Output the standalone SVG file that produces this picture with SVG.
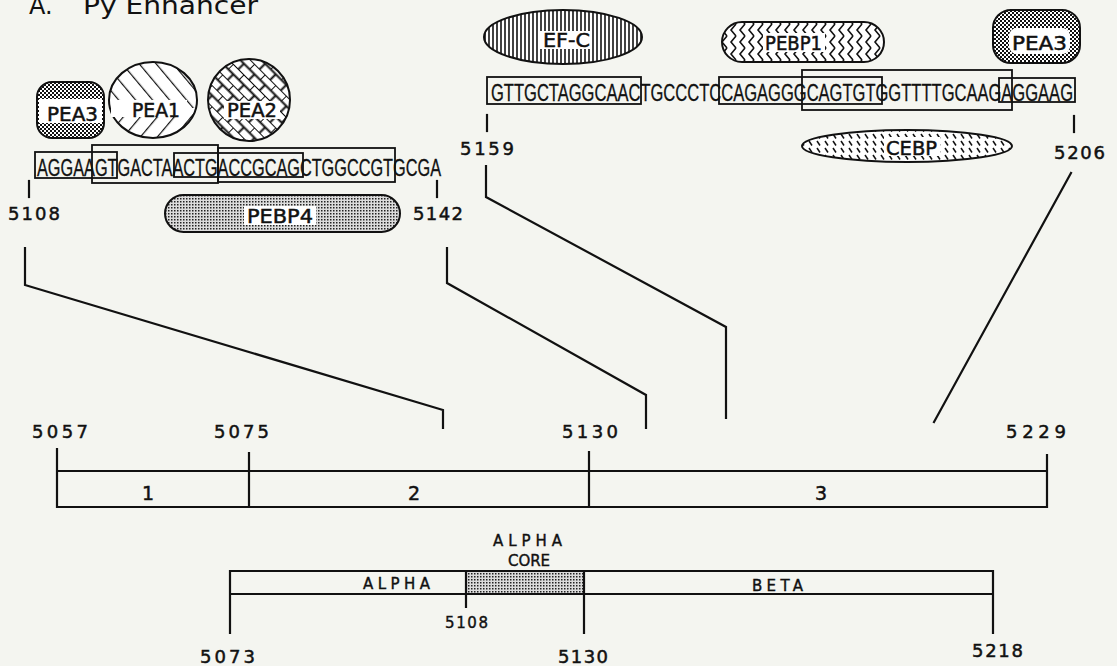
<svg xmlns="http://www.w3.org/2000/svg" width="1117" height="666" viewBox="0 0 1117 666">
<style>
.bg{fill:#f4f5f0}
.ln{fill:none;stroke:#111;stroke-width:2.2;stroke-linecap:square}
.bx{fill:none;stroke:#111;stroke-width:1.8}
.ol{stroke:#111;stroke-width:2}
.seq{font-family:"Liberation Sans",Arial,sans-serif;font-size:23px;fill:#111;stroke:#111;stroke-width:0.3}
.num{font-family:"DejaVu Sans",sans-serif;font-size:18px;fill:#111;stroke:#111;stroke-width:0.5}
.sm{font-family:"DejaVu Sans",sans-serif;font-size:15px;fill:#111;stroke:#111;stroke-width:0.4}
.lab{font-family:"DejaVu Sans",sans-serif;font-size:19px;fill:#111;stroke:#111;stroke-width:0.5}
.ttl{font-family:"DejaVu Sans",sans-serif;font-size:24px;fill:#111}
.wh{fill:#fff;stroke:none}
</style>
<defs>
<pattern id="checker" width="4" height="4" patternUnits="userSpaceOnUse">
<rect width="4" height="4" fill="#fff"/><rect width="2" height="2" fill="#111"/><rect x="2" y="2" width="2" height="2" fill="#111"/>
</pattern>
<pattern id="stipple" width="3" height="3" patternUnits="userSpaceOnUse">
<rect width="3" height="3" fill="#dcdcdc"/><rect width="1.5" height="1.5" fill="#222"/>
</pattern>
<pattern id="hatchA" width="13" height="13" patternUnits="userSpaceOnUse" patternTransform="rotate(-40)">
<rect width="13" height="13" fill="#fff"/><line x1="0" y1="0" x2="0" y2="13" stroke="#111" stroke-width="2.4"/>
</pattern>
<pattern id="hatchB" width="13" height="13" patternUnits="userSpaceOnUse" patternTransform="rotate(40)">
<rect width="13" height="13" fill="#fff"/><line x1="0" y1="0" x2="0" y2="13" stroke="#111" stroke-width="2.4"/>
</pattern>
<pattern id="brick" width="15" height="15" patternUnits="userSpaceOnUse" patternTransform="rotate(45)">
<rect width="15" height="15" fill="#fff"/><path d="M0,0H15M0,0V7.5M7.5,7.5V15M0,7.5H15" stroke="#111" stroke-width="2" fill="none"/>
</pattern>
<pattern id="vlines" width="4" height="4" patternUnits="userSpaceOnUse">
<rect width="4" height="4" fill="#fff"/><line x1="1" y1="0" x2="1" y2="4" stroke="#111" stroke-width="1.6"/>
</pattern>
<pattern id="chev" width="9" height="12" patternUnits="userSpaceOnUse">
<rect width="9" height="12" fill="#fff"/><path d="M7,0L2,6L7,12" stroke="#111" stroke-width="1.6" fill="none"/>
</pattern>
<pattern id="dash" width="8" height="7" patternUnits="userSpaceOnUse">
<rect width="8" height="7" fill="#fff"/><line x1="1" y1="1" x2="4" y2="5.5" stroke="#111" stroke-width="1.5"/>
</pattern>
<clipPath id="topHalf"><rect x="100" y="50" width="110" height="58"/></clipPath>
<clipPath id="botHalf"><rect x="100" y="108" width="110" height="40"/></clipPath>
</defs>
<rect class="bg" x="0" y="0" width="1117" height="666"/>

<g id="title">
<text class="ttl" x="29" y="14">A.</text>
<text class="ttl" x="83" y="14" textLength="175" lengthAdjust="spacingAndGlyphs">Py Enhancer</text>
</g>

<g id="pea3-left">
<rect x="37" y="82" width="67" height="56" rx="15" fill="url(#checker)" class="ol"/>
<rect class="wh" x="39" y="99" width="63" height="24"/>
<text class="lab" x="47" y="121" textLength="51" lengthAdjust="spacingAndGlyphs">PEA3</text>
</g>

<g id="pea1">
<ellipse cx="153" cy="100" rx="44" ry="38" fill="url(#hatchA)" class="ol" clip-path="url(#topHalf)"/>
<ellipse cx="153" cy="100" rx="44" ry="38" fill="url(#hatchB)" class="ol" clip-path="url(#botHalf)"/>
<rect class="wh" x="111" y="100" width="76" height="17"/>
<text class="lab" x="132" y="117" textLength="48" lengthAdjust="spacingAndGlyphs">PEA1</text>
</g>

<g id="pea2">
<circle cx="249" cy="100" r="41" fill="url(#brick)" class="ol"/>
<rect class="wh" x="224" y="101" width="56" height="18"/>
<text class="lab" x="227" y="117" textLength="50" lengthAdjust="spacingAndGlyphs">PEA2</text>
</g>

<g id="seq-left">
<rect class="bx" x="92" y="145" width="126" height="38"/>
<rect class="bx" x="218" y="148" width="177" height="34"/>
<rect class="bx" x="35" y="152" width="82" height="26" fill="#f4f5f0"/>
<rect class="bx" x="174" y="153" width="129" height="24" fill="#f4f5f0"/>
<text class="seq" x="37" y="176" textLength="404" lengthAdjust="spacingAndGlyphs">AGGAAGTGACTAACTGACCGCAGCTGGCCGTGCGA</text>
<line class="ln" x1="29" y1="181" x2="29" y2="197"/>
<line class="ln" x1="437" y1="181" x2="437" y2="197"/>
<text class="num" x="8" y="220" textLength="52" lengthAdjust="spacing">5108</text>
<text class="num" x="413" y="220" textLength="50" lengthAdjust="spacing">5142</text>
</g>

<g id="pebp4">
<rect x="165" y="195" width="235" height="37" rx="18.5" fill="url(#stipple)" class="ol"/>
<rect class="wh" x="244" y="206" width="72" height="19"/>
<text class="lab" x="247" y="223" textLength="66" lengthAdjust="spacingAndGlyphs">PEBP4</text>
</g>

<g id="efc">
<ellipse cx="563" cy="37" rx="79" ry="27" fill="url(#vlines)" class="ol"/>
<rect class="wh" x="540" y="31" width="52" height="18"/>
<text class="lab" x="543" y="47" textLength="47" lengthAdjust="spacingAndGlyphs">EF-C</text>
</g>

<g id="pebp1">
<rect x="722" y="22" width="162" height="40" rx="20" fill="url(#chev)" class="ol"/>
<rect class="wh" x="763" y="33" width="62" height="19"/>
<text class="lab" x="765" y="50" textLength="57" lengthAdjust="spacingAndGlyphs">PEBP1</text>
</g>

<g id="pea3-right">
<rect x="993" y="10" width="87" height="53" rx="18" fill="url(#checker)" class="ol"/>
<rect x="1009" y="28" width="61" height="26" rx="8" class="wh"/>
<text class="lab" x="1012" y="50" textLength="55" lengthAdjust="spacingAndGlyphs">PEA3</text>
</g>

<g id="seq-right">
<rect class="bx" x="802" y="70" width="210" height="40"/>
<rect class="bx" x="487" y="77" width="154" height="27" fill="#f4f5f0"/>
<rect class="bx" x="719" y="77" width="163" height="27" fill="#f4f5f0"/>
<rect class="bx" x="999" y="78" width="76" height="24" fill="#f4f5f0"/>
<text class="seq" x="491" y="101" textLength="582" lengthAdjust="spacingAndGlyphs">GTTGCTAGGCAACTGCCCTCCAGAGGGCAGTGTGGTTTTGCAAGAGGAAG</text>
<line class="ln" x1="487" y1="115" x2="487" y2="131"/>
<line class="ln" x1="1074" y1="116" x2="1074" y2="132"/>
<text class="num" x="460" y="155" textLength="54" lengthAdjust="spacing">5159</text>
<text class="num" x="1054" y="159" textLength="51" lengthAdjust="spacing">5206</text>
</g>

<g id="cebp">
<ellipse cx="907" cy="146" rx="105" ry="16" fill="url(#dash)" class="ol"/>
<rect class="wh" x="884" y="137" width="56" height="19"/>
<text class="lab" x="886" y="155" textLength="51" lengthAdjust="spacingAndGlyphs">CEBP</text>
</g>

<g id="connectors">
<polyline class="ln" points="25,248 25,285 443,410 443,428"/>
<polyline class="ln" points="447,248 447,283 646,395 646,428"/>
<polyline class="ln" points="486,166 486,197 726,327 726,418"/>
<line class="ln" x1="1071" y1="173" x2="934" y2="422"/>
</g>

<g id="bar1">
<path class="ln" d="M57,471H1047M57,507H1047M57,449V507M249,453V507M589,452V507M1047,455V507"/>
<text class="num" x="32" y="438" textLength="56" lengthAdjust="spacing">5057</text>
<text class="num" x="214" y="438" textLength="55" lengthAdjust="spacing">5075</text>
<text class="num" x="562" y="438" textLength="56" lengthAdjust="spacing">5130</text>
<text class="num" x="1006" y="438" textLength="60" lengthAdjust="spacing">5229</text>
<text class="lab" x="148" y="500" text-anchor="middle">1</text>
<text class="lab" x="414" y="500" text-anchor="middle">2</text>
<text class="lab" x="821" y="500" text-anchor="middle">3</text>
</g>

<g id="bar2">
<rect x="466" y="571" width="118" height="23" fill="url(#stipple)"/>
<path class="ln" d="M230,571H993M230,594H993M230,571V633M466,571V607M584,571V633M993,571V633"/>
<text class="sm" x="493" y="546" textLength="69" lengthAdjust="spacing">ALPHA</text>
<text class="sm" x="508" y="566" textLength="42" lengthAdjust="spacing">CORE</text>
<text class="sm" x="363" y="589" textLength="67" lengthAdjust="spacing">ALPHA</text>
<text class="sm" x="752" y="591" textLength="51" lengthAdjust="spacing">BETA</text>
<text class="sm" x="445" y="628" textLength="43" lengthAdjust="spacing">5108</text>
<text class="num" x="200" y="663" textLength="55" lengthAdjust="spacing">5073</text>
<text class="num" x="558" y="663" textLength="50" lengthAdjust="spacing">5130</text>
<text class="num" x="972" y="657" textLength="51" lengthAdjust="spacing">5218</text>
</g>
</svg>
